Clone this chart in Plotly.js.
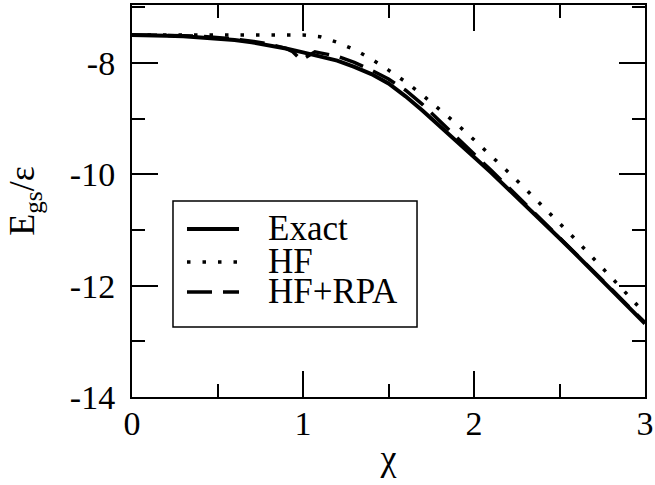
<!DOCTYPE html>
<html><head><meta charset="utf-8">
<script src="https://cdn.plot.ly/plotly-3.0.1.min.js"></script>
<style>html,body{margin:0;padding:0;background:#fff}</style>
</head><body>
<div id="chart" style="width:655px;height:485px"></div>
<script>
// ---- data ----
const chi = [0.0,0.1,0.2,0.3,0.4,0.5,0.6,0.7,0.8,0.9,1.0,1.1,1.2,1.3,1.4,1.5,1.6,1.7,1.8,1.9,2.0,2.1,2.2,2.3,2.4,2.5,2.6,2.7,2.8,2.9,3.0];
const exact = [-7.50,-7.50,-7.51,-7.52,-7.54,-7.56,-7.59,-7.63,-7.68,-7.74,-7.81,-7.88,-7.96,-8.07,-8.20,-8.37,-8.60,-8.86,-9.13,-9.41,-9.69,-9.97,-10.26,-10.55,-10.85,-11.15,-11.45,-11.76,-12.06,-12.37,-12.68];
const hf = [-7.50,-7.50,-7.50,-7.50,-7.50,-7.50,-7.50,-7.50,-7.50,-7.50,-7.50,-7.53,-7.63,-7.76,-7.93,-8.13,-8.34,-8.58,-8.83,-9.10,-9.38,-9.66,-9.96,-10.26,-10.56,-10.88,-11.19,-11.51,-11.84,-12.17,-12.50];
const chiRpa = [0.0,0.1,0.2,0.3,0.4,0.5,0.6,0.7,0.8,0.9,0.94,0.99,1.07,1.1,1.2,1.3,1.4,1.5,1.6,1.7,1.8,1.9,2.0,2.1,2.2,2.3,2.4,2.5,2.6,2.7,2.8,2.9,3.0];
const hfRpa = [-7.50,-7.50,-7.50,-7.51,-7.52,-7.54,-7.57,-7.61,-7.66,-7.74,-7.80,-7.95,-7.80,-7.82,-7.88,-7.99,-8.13,-8.29,-8.49,-8.75,-9.04,-9.33,-9.63,-9.93,-10.23,-10.53,-10.83,-11.13,-11.44,-11.75,-12.05,-12.36,-12.66];
const seriesNames = ['Exact','HF','HF+RPA'];
const xTickVals = [0,1,2,3];
const xTickText = ['0','1','2','3'];
const yTickVals = [-14,-12,-10,-8];
const yTickText = ['-14','-12','-10','-8'];

// ---- styles ----
const FONT = '"Liberation Serif", "Times New Roman", serif';
const styles = [
  {color:'#000', width:4, dash:'solid'},
  {color:'#000', width:3.5, dash:'3.5px,12px'},
  {color:'#000', width:3.5, dash:'25px,11px'}
];
const xs = [chi, chi, chiRpa];
const ys = [exact, hf, hfRpa];

const traces = seriesNames.map((n,i)=>({
  x: xs[i], y: ys[i], name: n, type:'scatter', mode:'lines',
  line: styles[i], showlegend:false, hoverinfo:'skip'
}));

// manual legend (paper coords)
const L = {x0:0.0799, x1:0.5556, y0:0.1786, y1:0.5, sx0:0.1072, sx1:0.2086, tx:0.2612, rows:[0.4286,0.3444,0.2679]};
const shapes = [{type:'rect', xref:'paper', yref:'paper', x0:L.x0, x1:L.x1, y0:L.y0, y1:L.y1,
  line:{color:'#000', width:1.5}, fillcolor:'rgba(255,255,255,0)'}];
const annotations = [];
seriesNames.forEach((n,i)=>{
  shapes.push({type:'line', xref:'paper', yref:'paper', x0:L.sx0, x1:L.sx1, y0:L.rows[i], y1:L.rows[i], line:styles[i]});
  annotations.push({xref:'paper', yref:'paper', x:L.tx, y:L.rows[i], xanchor:'left', yanchor:'middle',
    height:30, valign:'middle',
    text:n, showarrow:false, font:{family:FONT, size:35, color:'#000'}, yshift:1});
});

const axisCommon = {
  showline:true, linecolor:'#000', linewidth:2, mirror:'allticks',
  ticks:'inside', ticklen:26, tickwidth:2, tickcolor:'#000',
  showgrid:false, zeroline:false, automargin:false,
  tickfont:{family:FONT, size:34, color:'#000'}
};
const layout = {
  width:655, height:485,
  margin:{l:132, r:10, t:5, b:88},
  paper_bgcolor:'#fff', plot_bgcolor:'#fff',
  font:{family:FONT, color:'#000'},
  showlegend:false,
  xaxis: Object.assign({}, axisCommon, {
    range:[0,3], tickmode:'array', tickvals:xTickVals, ticktext:xTickText,
    minor:{dtick:0.5, ticks:'inside', ticklen:13, tickwidth:2, tickcolor:'#000'},
    ticklabelstandoff:-5,
    title:{text:'χ', font:{family:FONT, size:36, color:'#000'}, standoff:4}
  }),
  yaxis: Object.assign({}, axisCommon, {
    range:[-14,-6.96], tickmode:'array', tickvals:yTickVals, ticktext:yTickText,
    minor:{dtick:1, ticks:'inside', ticklen:13, tickwidth:2, tickcolor:'#000'},
    ticklabelstandoff:8,
    title:{text:'E<sub>gs</sub>/ε', font:{family:FONT, size:36, color:'#000'}, standoff:24}
  }),
  shapes: shapes,
  annotations: annotations
};
Plotly.newPlot('chart', traces, layout, {staticPlot:true, displayModeBar:false});
</script></body></html>
